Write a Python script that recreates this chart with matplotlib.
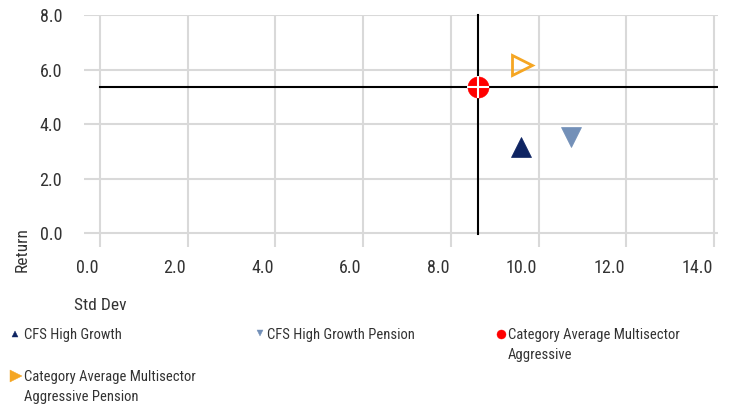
import matplotlib
matplotlib.use("Agg")
import matplotlib.pyplot as plt
import matplotlib.transforms as mtransforms
from matplotlib.lines import Line2D

plt.rcParams['font.family'] = ['Roboto Condensed', 'DejaVu Sans']

series = ["CFS High Growth", "CFS High Growth Pension",
          "Category Average Multisector\nAggressive",
          "Category Average Multisector\nAggressive Pension"]
std_dev = [9.61, 10.75, 8.62, 9.62]
returns = [3.16, 3.54, 5.36, 6.18]
colors = ["#0e2462", "#7390b8", "#ff0000", "#f5a623"]
markers = ["^", "v", "o", ">"]

xticks = [0, 2, 4, 6, 8, 10, 12, 14]
yticks = [0, 2, 4, 6, 8]

W, H = 729, 407
fig = plt.figure(figsize=(W/100, H/100), dpi=100)
ax = fig.add_axes([84/W, 1-247/H, (718-84)/W, (247-15)/H])
ax.set_xlim(-0.36, 14.09)
ax.set_ylim(-0.51, 8.0)
for s in ax.spines.values():
    s.set_visible(False)
ax.set_xticks(xticks)
ax.set_yticks(yticks)
ax.set_xticklabels([f"{v:.1f}" for v in xticks])
ax.set_yticklabels([f"{v:.1f}" for v in yticks])
ax.tick_params(length=0, labelsize=13, colors="#333333")
ax.tick_params(axis='y', pad=15.8)
ax.tick_params(axis='x', pad=8.3)
off = mtransforms.ScaledTranslation(-1.5/100, 0, fig.dpi_scale_trans)
for lab in ax.get_xticklabels():
    lab.set_horizontalalignment('right')
    lab.set_transform(lab.get_transform() + off)

for v in xticks:
    ax.axvline(v, color="#d9d9d9", lw=1.5, zorder=1)
for v in yticks:
    ax.axhline(v, color="#d9d9d9", lw=1.5, zorder=1)

# crosshair at category average
cx, cy = std_dev[2], returns[2]
ax.plot([0, 14.09], [cy, cy], color="black", lw=1.5, zorder=2)
ax.plot([cx, cx], [-0.04, 8.0], color="black", lw=1.5, zorder=2, clip_on=False)

ax.plot(std_dev[0], returns[0], marker="^", ms=14.5, color=colors[0], mew=0.5, ls="none", zorder=3)
ax.plot(std_dev[1], returns[1], marker="v", ms=14.5, color=colors[1], mew=0.5, ls="none", zorder=3)
ax.plot(cx, cy, marker="o", ms=15.3, color=colors[2], mew=0.3, ls="none", zorder=3)
ax.plot(cx, cy, marker="+", ms=15.3, mew=1.5, color="white", ls="none", zorder=4)
ax.plot(std_dev[3], returns[3], marker=">", ms=15, mfc="none", mec=colors[3], mew=2,
        ls="none", zorder=3)

fig.text(22/W, 1-250/H, "Return", rotation=90, ha="center", va="center",
         fontsize=12.5, color="#333333")
fig.text(74/W, 1-306/H, "Std Dev", ha="left", va="center", fontsize=12.5, color="#333333")

# legend
mk_pos = [(15, 334), (259.5, 333), (500.5, 333.5), (16, 376)]
mk_size = [4.5, 4.5, 6.5, 8.5]
txt_pos = [(24, 339), (267, 339), (508, 339), (24, 381)]
for (mx, my), ms, (tx, ty), lab, c, m in zip(mk_pos, mk_size, txt_pos, series, colors, markers):
    fig.add_artist(Line2D([mx/W], [1-my/H], marker=m, ms=ms, color=c, mew=0.3, ls="none"))
    for i, line in enumerate(lab.split("\n")):
        fig.text(tx/W, 1-(ty + 20*i)/H, line, ha="left", va="baseline", fontsize=10.5,
                 color="#333333")

fig.savefig("out.png", dpi=100)
